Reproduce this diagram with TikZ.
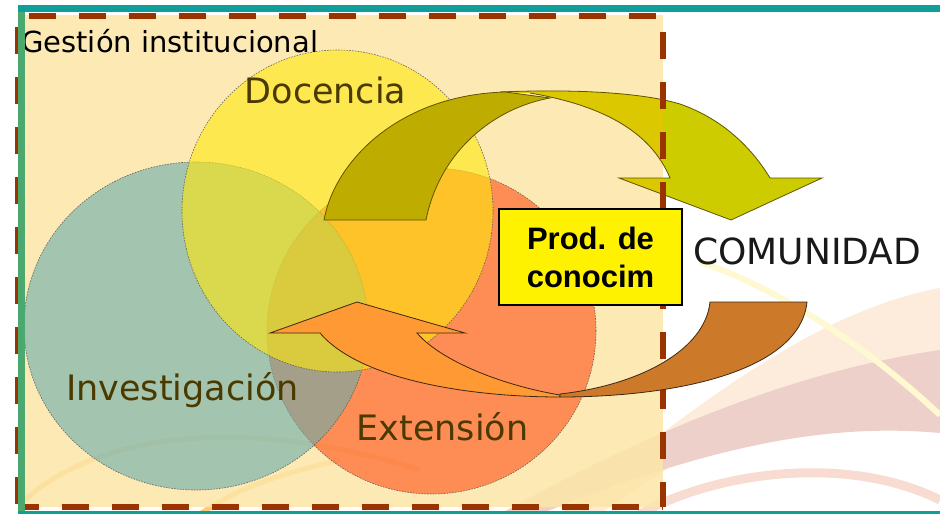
\documentclass[tikz,border=0pt]{standalone}
\usepackage{fontspec}
\newfontfamily\dv{DejaVu Sans}
\newfontfamily\lsans{Liberation Sans}
\definecolor{teal1}{RGB}{16,158,155}
\definecolor{green1}{RGB}{75,168,110}
\definecolor{peach}{RGB}{253,230,167}
\definecolor{dashbrown}{RGB}{153,51,0}
\definecolor{docc}{RGB}{255,232,13}
\definecolor{invc}{RGB}{103,172,173}
\definecolor{extc}{RGB}{255,78,22}
\definecolor{olivedark}{RGB}{191,172,0}
\definecolor{lightol}{RGB}{204,204,0}
\definecolor{lightolin}{RGB}{220,200,0}
\definecolor{orarrow}{RGB}{255,153,51}
\definecolor{brarrow}{RGB}{204,122,41}
\definecolor{labelc}{RGB}{75,58,0}
\definecolor{olline}{RGB}{95,85,0}
\definecolor{swpeach}{RGB}{253,236,220}
\definecolor{swpink}{RGB}{238,208,202}
\definecolor{swyellow}{RGB}{255,249,210}
\definecolor{swpink2}{RGB}{248,220,210}
\definecolor{sworange}{RGB}{250,190,120}
\begin{document}
\begin{tikzpicture}[x=1pt,y=-1pt,
  lbl/.style={inner sep=0pt, font=\dv\fontsize{35}{42}\selectfont, text=labelc, anchor=base},
  circ/.style={fill opacity=0.6, draw=black!65, draw opacity=0.9, line width=0.6pt, dash pattern=on 1.6pt off 1.2pt},
  bord/.style={draw=dashbrown, line width=6pt, dash pattern=on 27pt off 23pt},
  arrowol/.style={draw=olline, line width=0.8pt},
  arrowdk/.style={draw={rgb,255:red,60;green,40;blue,20}, line width=0.8pt},
]
\useasboundingbox (0,0) rectangle (940,514);
\fill[white] (0,0) rectangle (940,514);

% background swirls
\fill[swpeach] (560,514) .. controls (700,400) and (820,310) .. (940,288) -- (940,352) .. controls (820,375) and (720,430) .. (600,514) -- cycle;
\fill[swpink] (500,514) .. controls (650,430) and (800,370) .. (940,350) -- (940,433) .. controls (820,422) and (700,450) .. (540,514) -- cycle;
\draw[swyellow, line width=6pt] (700,262) .. controls (770,285) and (860,340) .. (940,415);
\draw[swpink2, line width=9pt] (640,514) .. controls (720,470) and (850,455) .. (940,500);
\draw[sworange, line width=5pt] (25,500) .. controls (90,440) and (230,410) .. (420,470);
\draw[swyellow!60!orange, line width=5pt] (200,514) .. controls (250,480) and (300,470) .. (340,460);

% institutional area
\fill[peach, fill opacity=0.85] (25,15) rectangle (663,507);

% circles
\path[circ, fill=extc] (431.5,331) ellipse [x radius=164.5pt, y radius=163pt];
\path[circ, fill=invc] (196,326) ellipse [x radius=172pt, y radius=164pt];
\path[circ, fill=docc] (337.5,211) ellipse [x radius=155.5pt, y radius=161pt];

% upper curved arrow (light part)
\fill[lightol] (500,92) .. controls (570,89) and (640,92) .. (680,104) .. controls (720,118) and (750,145) .. (770,178) -- (822,178) -- (731,220) -- (619,178) -- (670,178) .. controls (650,130) and (600,105) .. (530,93) -- cycle;
\begin{scope}
\clip (25,15) rectangle (663,507);
\fill[lightolin] (500,92) .. controls (570,89) and (640,92) .. (680,104) .. controls (720,118) and (750,145) .. (770,178) -- (822,178) -- (731,220) -- (619,178) -- (670,178) .. controls (650,130) and (600,105) .. (530,93) -- cycle;
\end{scope}
\draw[arrowol] (500,92) .. controls (570,89) and (640,92) .. (680,104) .. controls (720,118) and (750,145) .. (770,178) -- (822,178) -- (731,220) -- (619,178) -- (670,178) .. controls (650,130) and (600,105) .. (530,93);
% upper curved arrow (dark part)
\filldraw[arrowol, fill=olivedark] (324,220) .. controls (335,160) and (400,95) .. (505,92) -- (550,98) .. controls (495,108) and (440,150) .. (426,220) -- cycle;

% dashed border
\coordinate (tl) at (17.5,16);
\coordinate (tr) at (662.7,16);
\coordinate (bl) at (17.5,506.5);
\coordinate (br) at (662.7,506.5);
\draw[bord, dash phase=39pt] (tl) -- (tr);
\draw[bord, dash phase=39pt] (tl) -- (bl);
\draw[bord, dash phase=6pt] (bl) -- (br);
\draw[bord, dash phase=34pt] (tr) -- (br);

% lower curved arrow
\filldraw[arrowdk, fill=orarrow] (270,333) -- (357,302) -- (465,333) -- (417,333) .. controls (440,360) and (500,385) .. (560,395) -- (560,397) .. controls (470,397) and (360,380) .. (320,333) -- cycle;
\filldraw[arrowdk, fill=brarrow] (710,302) -- (807,302) .. controls (800,370) and (680,397) .. (560,397) -- (560,394) .. controls (640,385) and (705,350) .. (710,302) -- cycle;

% box
\node[draw=black, line width=1.5pt, fill=yellow, minimum width=183pt, minimum height=96pt, inner sep=0pt, align=center, font=\lsans\bfseries\fontsize{31}{38}\selectfont] (box) at (590.5,257) {Prod. de\\conocim};

% labels
\node[lbl] (doc) at (325.5,103) {Docencia};
\node[lbl] (inv) at (182.5,400) {Investigación};
\node[lbl] (ext) at (442.5,440) {Extensión};
\node[anchor=base west, inner sep=0pt, font=\dv\fontsize{29}{34}\selectfont, text=black] (gest) at (21,52) {Gestión institucional};
\node[anchor=base west, inner sep=0pt, font=\dv\fontsize{36}{42}\selectfont, text=black!90] (com) at (693,264) {COMUNIDAD};

% frame lines
\draw[teal1, line width=7pt] (18,8.7) -- (940,8.7);
\draw[green1, line width=6.5pt] (21.7,12) -- (21.7,511);
\draw[teal1, line width=3.5pt] (18,512.5) -- (940,512.5);
\end{tikzpicture}
\end{document}
